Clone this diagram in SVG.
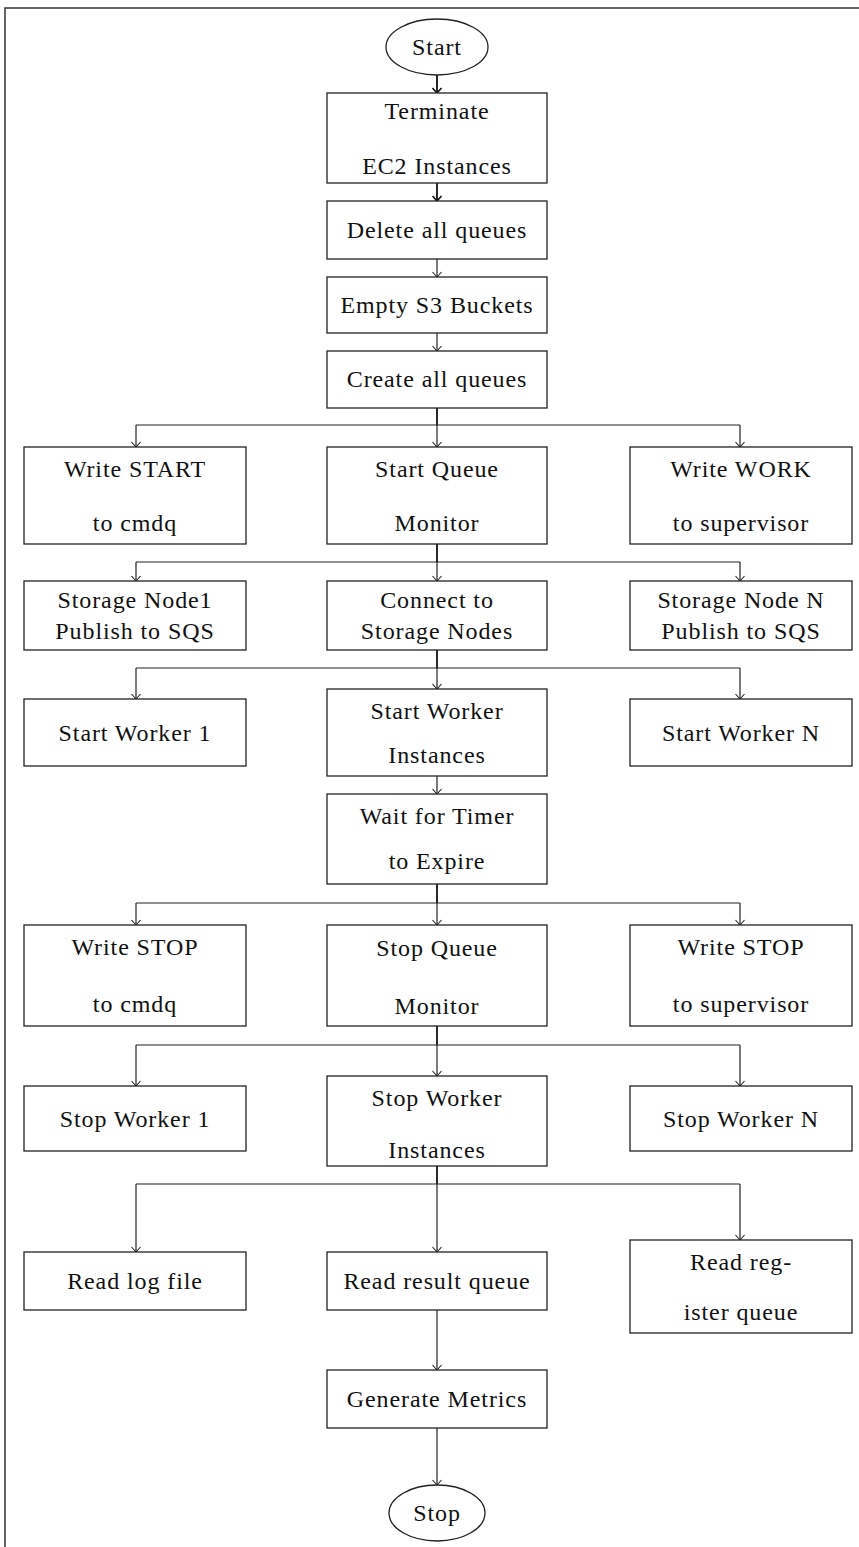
<svg xmlns="http://www.w3.org/2000/svg" width="859" height="1547" viewBox="0 0 859 1547">
<defs>
<style>
.n{fill:#fff;stroke:#222;stroke-width:1.3}
.t{font-family:"Liberation Serif","DejaVu Serif",serif;font-size:24px;letter-spacing:0.9px;fill:#111;text-anchor:middle;dominant-baseline:central}
.c{fill:none;stroke:#222;stroke-width:1.2}
.c2{fill:none;stroke:#111;stroke-width:1.8}
</style>
<marker id="a" markerWidth="12" markerHeight="12" refX="6" refY="6" orient="auto" markerUnits="userSpaceOnUse">
<path d="M1,1.5 L6,6 L1,10.5" fill="none" stroke="#222" stroke-width="1.1"/>
</marker>
<marker id="b" markerWidth="12" markerHeight="12" refX="6" refY="6" orient="auto" markerUnits="userSpaceOnUse">
<path d="M1,1.5 L6,6 L1,10.5" fill="none" stroke="#111" stroke-width="1.6"/>
</marker>
</defs>
<rect width="859" height="1547" fill="#fff"/>
<path d="M5,1547 V8 H859" fill="none" stroke="#333" stroke-width="1.5"/>

<g id="connectors">
<path class="c2" d="M437,75 V93" marker-end="url(#b)"/>
<path class="c2" d="M437,183 V201" marker-end="url(#b)"/>
<path class="c" d="M437,259 V277" marker-end="url(#a)"/>
<path class="c" d="M437,333 V351" marker-end="url(#a)"/>
<path class="c2" d="M437,408 V425"/>
<path class="c" d="M136,425 H740"/>
<path class="c" d="M136,425 V447" marker-end="url(#a)"/>
<path class="c" d="M437,425 V447" marker-end="url(#a)"/>
<path class="c" d="M740,425 V447" marker-end="url(#a)"/>
<path class="c2" d="M437,544 V562"/>
<path class="c" d="M136,562 H740"/>
<path class="c" d="M136,562 V581" marker-end="url(#a)"/>
<path class="c" d="M437,562 V581" marker-end="url(#a)"/>
<path class="c" d="M740,562 V581" marker-end="url(#a)"/>
<path class="c2" d="M437,650 V668"/>
<path class="c" d="M136,668 H740"/>
<path class="c" d="M136,668 V699" marker-end="url(#a)"/>
<path class="c" d="M437,668 V689" marker-end="url(#a)"/>
<path class="c" d="M740,668 V699" marker-end="url(#a)"/>
<path class="c" d="M437,776 V794" marker-end="url(#a)"/>
<path class="c2" d="M437,884 V903"/>
<path class="c" d="M136,903 H740"/>
<path class="c" d="M136,903 V925" marker-end="url(#a)"/>
<path class="c" d="M437,903 V925" marker-end="url(#a)"/>
<path class="c" d="M740,903 V925" marker-end="url(#a)"/>
<path class="c2" d="M437,1026 V1045"/>
<path class="c" d="M136,1045 H740"/>
<path class="c" d="M136,1045 V1086" marker-end="url(#a)"/>
<path class="c" d="M437,1045 V1076" marker-end="url(#a)"/>
<path class="c" d="M740,1045 V1086" marker-end="url(#a)"/>
<path class="c2" d="M437,1166 V1184"/>
<path class="c" d="M136,1184 H740"/>
<path class="c" d="M136,1184 V1252" marker-end="url(#a)"/>
<path class="c" d="M437,1184 V1252" marker-end="url(#a)"/>
<path class="c" d="M740,1184 V1240" marker-end="url(#a)"/>
<path class="c" d="M437,1310 V1370" marker-end="url(#a)"/>
<path class="c" d="M437,1428 V1485" marker-end="url(#a)"/>
</g>

<g id="start"><ellipse class="n" cx="437" cy="47" rx="51" ry="28"/><text class="t" x="437" y="47">Start</text></g>
<g id="terminate"><rect class="n" x="327" y="93" width="220" height="90"/><text class="t" x="437" y="111">Terminate</text><text class="t" x="437" y="166">EC2 Instances</text></g>
<g id="delete"><rect class="n" x="327" y="201" width="220" height="58"/><text class="t" x="437" y="230">Delete all queues</text></g>
<g id="empty"><rect class="n" x="327" y="277" width="220" height="56"/><text class="t" x="437" y="305">Empty S3 Buckets</text></g>
<g id="create"><rect class="n" x="327" y="351" width="220" height="57"/><text class="t" x="437" y="379">Create all queues</text></g>

<g id="writestart"><rect class="n" x="24" y="447" width="222" height="97"/><text class="t" x="135" y="469">Write START</text><text class="t" x="135" y="523">to cmdq</text></g>
<g id="startqm"><rect class="n" x="327" y="447" width="220" height="97"/><text class="t" x="437" y="469">Start Queue</text><text class="t" x="437" y="523">Monitor</text></g>
<g id="writework"><rect class="n" x="630" y="447" width="222" height="97"/><text class="t" x="741" y="469">Write WORK</text><text class="t" x="741" y="523">to supervisor</text></g>

<g id="storage1"><rect class="n" x="24" y="581" width="222" height="69"/><text class="t" x="135" y="600">Storage Node1</text><text class="t" x="135" y="631">Publish to SQS</text></g>
<g id="connect"><rect class="n" x="327" y="581" width="220" height="69"/><text class="t" x="437" y="600">Connect to</text><text class="t" x="437" y="631">Storage Nodes</text></g>
<g id="storageN"><rect class="n" x="630" y="581" width="222" height="69"/><text class="t" x="741" y="600">Storage Node N</text><text class="t" x="741" y="631">Publish to SQS</text></g>

<g id="worker1"><rect class="n" x="24" y="699" width="222" height="67"/><text class="t" x="135" y="733">Start Worker 1</text></g>
<g id="startwi"><rect class="n" x="327" y="689" width="220" height="87"/><text class="t" x="437" y="711">Start Worker</text><text class="t" x="437" y="755">Instances</text></g>
<g id="workerN"><rect class="n" x="630" y="699" width="222" height="67"/><text class="t" x="741" y="733">Start Worker N</text></g>

<g id="wait"><rect class="n" x="327" y="794" width="220" height="90"/><text class="t" x="437" y="816">Wait for Timer</text><text class="t" x="437" y="861">to Expire</text></g>

<g id="writestop1"><rect class="n" x="24" y="925" width="222" height="101"/><text class="t" x="135" y="947">Write STOP</text><text class="t" x="135" y="1004">to cmdq</text></g>
<g id="stopqm"><rect class="n" x="327" y="925" width="220" height="101"/><text class="t" x="437" y="948">Stop Queue</text><text class="t" x="437" y="1006">Monitor</text></g>
<g id="writestop2"><rect class="n" x="630" y="925" width="222" height="101"/><text class="t" x="741" y="947">Write STOP</text><text class="t" x="741" y="1004">to supervisor</text></g>

<g id="stopw1"><rect class="n" x="24" y="1086" width="222" height="65"/><text class="t" x="135" y="1119">Stop Worker 1</text></g>
<g id="stopwi"><rect class="n" x="327" y="1076" width="220" height="90"/><text class="t" x="437" y="1098">Stop Worker</text><text class="t" x="437" y="1150">Instances</text></g>
<g id="stopwN"><rect class="n" x="630" y="1086" width="222" height="65"/><text class="t" x="741" y="1119">Stop Worker N</text></g>

<g id="readlog"><rect class="n" x="24" y="1252" width="222" height="58"/><text class="t" x="135" y="1281">Read log file</text></g>
<g id="readresult"><rect class="n" x="327" y="1252" width="220" height="58"/><text class="t" x="437" y="1281">Read result queue</text></g>
<g id="readreg"><rect class="n" x="630" y="1240" width="222" height="93"/><text class="t" x="741" y="1262">Read reg-</text><text class="t" x="741" y="1312">ister queue</text></g>

<g id="metrics"><rect class="n" x="327" y="1370" width="220" height="58"/><text class="t" x="437" y="1399">Generate Metrics</text></g>
<g id="stop"><ellipse class="n" cx="437" cy="1513" rx="48" ry="28"/><text class="t" x="437" y="1513">Stop</text></g>
</svg>
